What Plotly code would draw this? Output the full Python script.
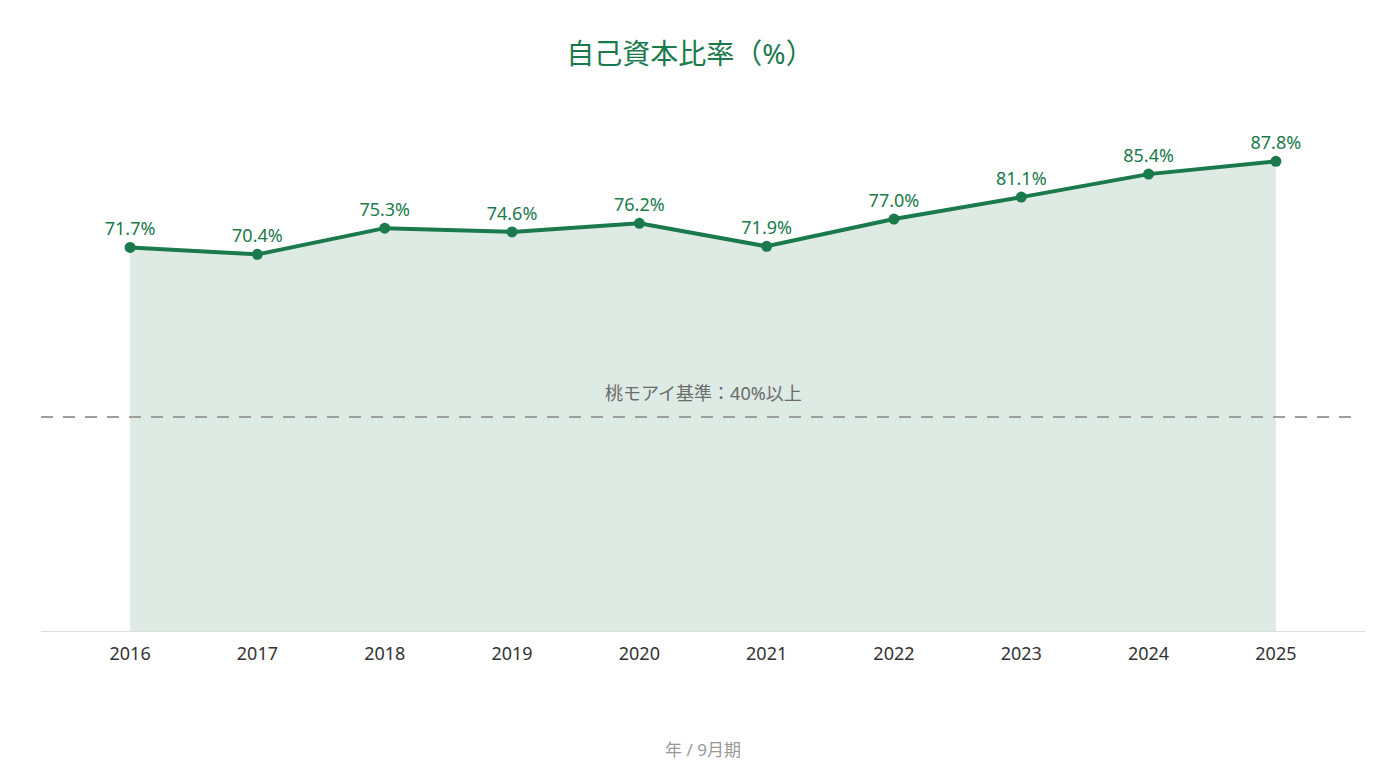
import plotly.graph_objects as go

years = [2016, 2017, 2018, 2019, 2020, 2021, 2022, 2023, 2024, 2025]
ratios = [71.7, 70.4, 75.3, 74.6, 76.2, 71.9, 77.0, 81.1, 85.4, 87.8]
labels = [f"{v:.1f}%" for v in ratios]
threshold = 40
threshold_label = "桃モアイ基準：40%以上"
title = "自己資本比率（%）"
x_title = "年 / 9月期"

GREEN = "#1a7a4c"
FONT = "Noto Sans, Noto Sans CJK JP"

fig = go.Figure()
fig.add_trace(go.Scatter(
    x=years, y=ratios, mode="lines+markers+text",
    line=dict(color=GREEN, width=4),
    marker=dict(size=11, color=GREEN),
    fill="tozeroy", fillcolor="rgba(26,122,76,0.15)",
    text=labels, textposition="top center",
    textfont=dict(color=GREEN, size=18, family=FONT),
    cliponaxis=False, showlegend=False, hoverinfo="skip",
))
fig.add_shape(type="line", xref="paper", x0=0, x1=0.995, yref="y", y0=threshold, y1=threshold,
              line=dict(color="#9e9e9e", width=2, dash="12px,10px"))
fig.add_annotation(xref="paper", x=0.5, yref="y", y=threshold, yshift=24,
                   text=threshold_label, showarrow=False,
                   font=dict(color="#6b6b6b", size=18, family=FONT))

fig.update_layout(
    width=1380, height=780,
    margin=dict(l=41, r=15, t=96, b=149),
    paper_bgcolor="white", plot_bgcolor="white",
    title=dict(text=title, x=0.5, xanchor="center", y=0.93, yanchor="middle",
               font=dict(color=GREEN, size=28, family=FONT)),
    font=dict(family=FONT),
    xaxis=dict(range=[2015.3, 2025.7], tickmode="array", tickvals=years,
               ticktext=[str(y) for y in years], showgrid=False, zeroline=False,
               showline=True, linecolor="#dddddd", linewidth=1,
               tickfont=dict(color="#333333", size=18, family=FONT),
               ticks="", ticklen=0, ticklabelstandoff=6,
               title=dict(text=x_title, font=dict(color="#999999", size=17, family=FONT), standoff=80)),
    yaxis=dict(range=[0, 100], visible=False, showgrid=False, zeroline=False),
)

fig.write_html("out.html")
